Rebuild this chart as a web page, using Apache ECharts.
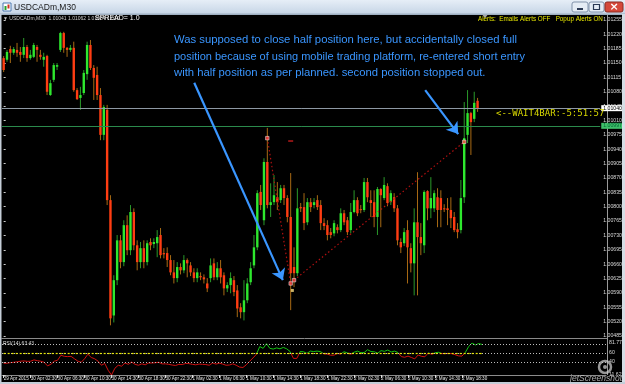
<!DOCTYPE html>
<html><head><meta charset="utf-8">
<script src="https://cdn.jsdelivr.net/npm/echarts@6/dist/echarts.min.js"></script>
<style>html,body{margin:0;padding:0;background:#000;}#c{width:625px;height:384px;}</style>
</head><body><div id="c"></div>
<script>
// ---- tick labels of the time axis (one every 8 bars of M30) ----
const tickLabels = ['29 Apr 2015','30 Apr 02:30','30 Apr 06:30','30 Apr 10:30','30 Apr 14:30','30 Apr 18:30','30 Apr 22:30',
  '1 May 02:30','1 May 06:30','1 May 10:30','1 May 14:30','1 May 18:30','1 May 22:30',
  '2 May 02:30','2 May 06:30','2 May 10:30','2 May 14:30','2 May 18:30'];

// ---- USDCADm M30 candles ----
const open = [
1.01162,1.01158,1.01184,1.01175,1.01182,1.01177,1.01170,1.01189,1.01162,1.01165,
1.01189,1.01170,1.01158,1.01167,1.01072,1.01109,1.01141,1.01182,1.01223,1.01187,
1.01182,1.01187,1.01084,1.01065,1.01077,1.01123,1.01194,1.01138,1.01121,1.01072,
1.00975,1.01036,1.00816,1.00535,1.00621,1.00718,1.00665,1.00755,1.00694,1.00787,
1.00706,1.00665,1.00699,1.00665,1.00714,1.00709,1.00711,1.00731,1.00687,1.00687,
1.00670,1.00640,1.00626,1.00653,1.00645,1.00670,1.00657,1.00640,1.00626,1.00631,
1.00628,1.00613,1.00626,1.00662,1.00628,1.00650,1.00633,1.00601,1.00609,1.00621,
1.00596,1.00555,1.00543,1.00572,1.00616,1.00657,1.00701,1.00836,1.00767,1.00909,
1.00804,1.00811,1.00823,1.00816,1.00845,1.00821,1.00775,1.00653,1.00638,1.00799,
1.00799,1.00762,1.00811,1.00804,1.00816,1.00804,1.00760,1.00755,1.00738,1.00735,
1.00750,1.00743,1.00784,1.00767,1.00743,1.00787,1.00816,1.00794,1.00792,1.00860,
1.00816,1.00811,1.00775,1.00843,1.00821,1.00850,1.00811,1.00823,1.00796,1.00714,
1.00711,1.00743,1.00699,1.00662,1.00762,1.00726,1.00706,1.00838,1.00796,1.00796,
1.00823,1.00821,1.00796,1.00796,1.00792,1.00775,1.00745,1.00743,1.00823,1.00975,
1.01028,1.01014,1.01058];
const high = [
1.01167,1.01182,1.01192,1.01189,1.01199,1.01189,1.01211,1.01194,1.01182,1.01199,
1.01194,1.01182,1.01175,1.01170,1.01109,1.01150,1.01150,1.01226,1.01226,1.01189,
1.01194,1.01202,1.01089,1.01092,1.01133,1.01202,1.01206,1.01145,1.01141,1.01089,
1.01048,1.01048,1.00828,1.00633,1.00731,1.00731,1.00767,1.00779,1.00804,1.00796,
1.00718,1.00714,1.00718,1.00718,1.00723,1.00723,1.00743,1.00748,1.00699,1.00701,
1.00682,1.00670,1.00665,1.00662,1.00682,1.00674,1.00665,1.00650,1.00650,1.00640,
1.00635,1.00626,1.00674,1.00674,1.00665,1.00670,1.00640,1.00616,1.00640,1.00631,
1.00609,1.00565,1.00621,1.00626,1.00665,1.00731,1.00840,1.00853,1.00918,1.00992,
1.00857,1.00877,1.00860,1.00853,1.00853,1.00828,1.00882,1.00701,1.00845,1.00809,
1.00833,1.00821,1.00821,1.00821,1.00828,1.00816,1.00772,1.00767,1.00748,1.00767,
1.00757,1.00796,1.00792,1.00775,1.00809,1.00840,1.00823,1.00804,1.00870,1.00870,
1.00840,1.00840,1.00848,1.00845,1.00872,1.00857,1.00840,1.00833,1.00804,1.00723,
1.00748,1.00767,1.00711,1.00796,1.00884,1.00760,1.00840,1.00840,1.00872,1.00840,
1.00845,1.00840,1.00806,1.00821,1.00823,1.00787,1.00760,1.00865,1.01055,1.01084,
1.01031,1.01080,1.01065];
const low = [
1.01128,1.01153,1.01150,1.01170,1.01165,1.01153,1.01162,1.01153,1.01158,1.01162,
1.01153,1.01158,1.01141,1.01072,1.01070,1.01104,1.01133,1.01177,1.01175,1.01165,
1.01177,1.01080,1.01060,1.01036,1.01072,1.01109,1.01133,1.01060,1.01060,1.00962,
1.00962,1.00804,1.00511,1.00518,1.00609,1.00650,1.00655,1.00682,1.00682,1.00694,
1.00645,1.00650,1.00650,1.00657,1.00694,1.00699,1.00677,1.00674,1.00674,1.00653,
1.00633,1.00613,1.00616,1.00635,1.00638,1.00628,1.00631,1.00616,1.00616,1.00621,
1.00613,1.00592,1.00616,1.00621,1.00621,1.00613,1.00584,1.00592,1.00589,1.00582,
1.00531,1.00528,1.00523,1.00565,1.00609,1.00650,1.00694,1.00792,1.00755,1.00796,
1.00775,1.00804,1.00792,1.00809,1.00804,1.00762,1.00548,1.00604,1.00631,1.00787,
1.00743,1.00755,1.00787,1.00796,1.00792,1.00743,1.00743,1.00718,1.00723,1.00728,
1.00735,1.00738,1.00755,1.00731,1.00735,1.00784,1.00777,1.00784,1.00787,1.00811,
1.00775,1.00750,1.00731,1.00750,1.00816,1.00801,1.00804,1.00787,1.00706,1.00687,
1.00704,1.00613,1.00640,1.00584,1.00584,1.00682,1.00687,1.00767,1.00772,1.00787,
1.00750,1.00750,1.00787,1.00755,1.00748,1.00738,1.00723,1.00735,1.00809,1.00955,
1.00926,1.01006,1.01031];
const close = [
1.01133,1.01177,1.01175,1.01184,1.01175,1.01170,1.01189,1.01162,1.01170,1.01194,
1.01182,1.01165,1.01165,1.01080,1.01101,1.01145,1.01145,1.01223,1.01187,1.01182,
1.01187,1.01084,1.01062,1.01072,1.01126,1.01194,1.01138,1.01114,1.01072,1.00975,
1.01043,1.00816,1.00528,1.00621,1.00718,1.00665,1.00755,1.00694,1.00787,1.00706,
1.00665,1.00699,1.00665,1.00711,1.00706,1.00714,1.00726,1.00682,1.00684,1.00670,
1.00640,1.00626,1.00653,1.00645,1.00670,1.00662,1.00640,1.00626,1.00640,1.00628,
1.00623,1.00601,1.00657,1.00628,1.00650,1.00628,1.00601,1.00609,1.00626,1.00592,
1.00552,1.00543,1.00572,1.00613,1.00650,1.00701,1.00833,1.00804,1.00909,1.00804,
1.00811,1.00828,1.00811,1.00845,1.00821,1.00775,1.00638,1.00638,1.00796,1.00796,
1.00760,1.00811,1.00799,1.00811,1.00799,1.00760,1.00753,1.00731,1.00731,1.00760,
1.00743,1.00784,1.00762,1.00738,1.00787,1.00816,1.00784,1.00792,1.00860,1.00823,
1.00809,1.00775,1.00843,1.00828,1.00853,1.00809,1.00833,1.00796,1.00718,1.00701,
1.00738,1.00701,1.00662,1.00762,1.00726,1.00711,1.00836,1.00796,1.00821,1.00833,
1.00792,1.00792,1.00794,1.00792,1.00772,1.00743,1.00738,1.00821,1.00967,1.01028,
1.01006,1.01053,1.01040];

// ---- RSI(14) ----
const rsi = [
37.1,37.5,38.7,39.5,40.5,41.8,42.5,41.5,41.8,44.8,
43,41.8,39.5,31.7,35,41.8,44,54.9,52.5,52,
52.5,47.2,42,39.5,47.2,57.2,50,47.2,42,33,
37,22,11.62,26.4,33,31,38,35,40,35,
33,36,34,37.9,38,38.5,39.5,36,36,35,
33.5,32.5,35,34.5,37,36.5,35,34,35.5,35,
34.5,33,38,35.5,37.5,35.5,33,33.5,36,33,
29,28,34,41.8,49,57,74,70,80.3,70,
68.5,71,69,72,69,63,48,48,63,62.5,
59,64,63,64,63,58,57.5,55,55,58.7,
57.5,62.6,60,57,61.5,64,60.5,61,67,63,
62.5,59.5,65,63.5,66.4,62,64,61,52,50.5,
53,50,47,55.5,52.5,51.5,60,57,60.2,61.5,
58.5,58.5,58.7,58.5,56,53.5,53,61,74,81.77,
77.5,80.5,78.5];
const rsiLevels = [80, 60, 40];
const rsiScale = [11.62, 81.77];

// ---- lines, trades and annotations (bar index / price) ----
const priceTicks = { min: 1.00485, max: 1.01267, step: 0.00035 };
const bidPrice = 1.01040;
const orderPrice = 1.00997;
const tradeBars   = [79, 86, 87, 138];
const tradePrices = [1.00967, 1.00613, 1.00621, 1.00958];
const slBar = 86, slPrice = 1.00960;
const exitBar = 86.5, exitPrice = 1.00596;
const arrowFrom = [[57.1, 1.01102], [126.3, 1.01084]];
const arrowTo   = [[83.65, 1.00621], [136.2, 1.00977]];
const noteLines = ['Was supposed to close half position here, but accidentally closed full',
  'position because of using mobile trading platform, re-entered short entry',
  'with half position as per planned. second position stopped out.'];

const chart = echarts.init(document.getElementById('c'), null, {renderer:'canvas', width:625, height:384});
const candleData = close.map((c, i) => [i, open[i], high[i], low[i], c]);
const rsiData = rsi.map((v, i) => [i, v]);
const timeTicks = tickLabels.map((_, k) => k * 8);
const X_MIN = -0.5, X_MAX = 178.76;
const BLUE = '#3a96ff';
const tradeLineStyle = { color: '#b01010', width: 1.2, type: [1.5, 2.5] };

function renderCandle(params, api) {
  const x = api.value(0), o = api.value(1), h = api.value(2), l = api.value(3), c = api.value(4);
  const pO = api.coord([x, o]), pC = api.coord([x, c]), pH = api.coord([x, h]), pL = api.coord([x, l]);
  const up = c > o;
  const bw = 2.4;
  const top = Math.min(pO[1], pC[1]);
  const bh = Math.max(1, Math.abs(pO[1] - pC[1]));
  return { type: 'group', children: [
    { type: 'line', shape: { x1: pH[0], y1: pH[1], x2: pL[0], y2: pL[1] },
      style: { stroke: up ? '#2a9a2a' : '#a86a14', lineWidth: 1 } },
    { type: 'rect', shape: { x: pO[0] - bw / 2, y: top, width: bw, height: bh },
      style: { fill: up ? '#2ee82e' : '#ff3d12' } }
  ]};
}

const option = {
  backgroundColor: '#000',
  animation: false,
  grid: [
    { left: 2, right: 18, top: 15, bottom: 48 },
    { left: 2, right: 18, top: 343, bottom: 9 }
  ],
  xAxis: [
    { type: 'value', gridIndex: 0, min: X_MIN, max: X_MAX, show: false },
    { type: 'value', gridIndex: 1, min: X_MIN, max: X_MAX,
      axisLine: { show: true, lineStyle: { color: '#8c8c8c', width: 1 } },
      axisTick: { show: true, customValues: timeTicks, length: 3, lineStyle: { color: '#dddddd' } },
      axisLabel: { customValues: timeTicks, formatter: v => tickLabels[Math.round(v / 8)] || '',
        color: '#e6e6e6', fontSize: 4.6, align: 'left', margin: 1.5, fontFamily: 'Liberation Sans',
        showMinLabel: true, hideOverlap: false },
      splitLine: { show: false } }
  ],
  yAxis: [
    { type: 'value', gridIndex: 0, position: 'right', min: priceTicks.min, max: priceTicks.max, interval: priceTicks.step,
      axisLine: { show: false }, axisTick: { show: true, length: 2, lineStyle: { color: '#cccccc' } },
      axisLabel: { color: '#d8d8d8', fontSize: 5.2, margin: 3, showMaxLabel: false, fontFamily: 'Liberation Sans',
        formatter: v => v.toFixed(5) },
      splitLine: { show: false } },
    { type: 'value', gridIndex: 1, position: 'right', min: rsiScale[0], max: rsiScale[1],
      axisLine: { show: false },
      axisTick: { show: true, length: 2, customValues: [rsiScale[0], 40, 60, rsiScale[1]], lineStyle: { color: '#cccccc' } },
      axisLabel: { customValues: [rsiScale[0], 40, 60, rsiScale[1]], color: '#d8d8d8', fontSize: 5.2, margin: 3,
        fontFamily: 'Liberation Sans', formatter: v => (v === rsiScale[0] || v === rsiScale[1]) ? v.toFixed(2) : String(v) },
      splitLine: { show: false } }
  ],
  visualMap: { show: false, type: 'piecewise', seriesIndex: 3, dimension: 1,
    pieces: [{ gte: 0, lt: 60, color: '#d01010' }, { gte: 60, lte: 100, color: '#12c412' }] },
  series: [
    { type: 'custom', name: 'candles', xAxisIndex: 0, yAxisIndex: 0, data: candleData, renderItem: renderCandle,
      encode: { x: 0, y: [1, 2, 3, 4] }, silent: true, z: 3 },
    { type: 'scatter', name: 'trades', xAxisIndex: 0, yAxisIndex: 0, z: 6, silent: true,
      data: tradeBars.map((b, k) => [b, tradePrices[k]]),
      symbol: 'rect', symbolSize: 3.5, itemStyle: { color: '#ff4040', borderColor: '#ffffff', borderWidth: 0.6 },
      markLine: { silent: true, symbol: 'none', animation: false, precision: 5,
        label: { show: true, position: 'end', fontSize: 5.2, fontFamily: 'Liberation Sans', padding: [1, 2, 0, 2], distance: 1 },
        data: [
          [{ coord: [tradeBars[0], tradePrices[0]], label: { show: false }, lineStyle: tradeLineStyle }, { coord: [tradeBars[1], tradePrices[1]] }],
          [{ coord: [tradeBars[2], tradePrices[2]], label: { show: false }, lineStyle: tradeLineStyle }, { coord: [tradeBars[3], tradePrices[3]] }],
          { yAxis: bidPrice, lineStyle: { color: '#8d98a3', width: 1, type: 'solid' },
            label: { show: true, formatter: bidPrice.toFixed(5), color: '#000', backgroundColor: '#ffffff' } },
          { yAxis: orderPrice, lineStyle: { color: '#2b8a4c', width: 1, type: 'solid' },
            label: { show: true, formatter: orderPrice.toFixed(5), color: '#063', backgroundColor: '#3fbf6a' } }
        ] } },
    { type: 'scatter', name: 'marks', xAxisIndex: 0, yAxisIndex: 0, z: 6, silent: true,
      data: [
        { value: [slBar, slPrice], symbol: 'rect', symbolSize: [5, 1.5], itemStyle: { color: '#e02020' } },
        { value: [exitBar, exitPrice], symbol: 'rect', symbolSize: 3, itemStyle: { color: '#ffe080' } }
      ],
      markLine: { silent: true, animation: false, precision: 5, symbol: ['none', 'arrow'], symbolSize: 11, label: { show: false },
        lineStyle: { color: BLUE, width: 2.2, type: 'solid' },
        data: arrowFrom.map((f, k) => [{ coord: f }, { coord: arrowTo[k] }]) } },
    { type: 'line', name: 'RSI(14)', xAxisIndex: 1, yAxisIndex: 1, data: rsiData, showSymbol: false, symbol: 'none',
      lineStyle: { width: 1 }, z: 4, silent: true },
    { type: 'scatter', name: 'levels', xAxisIndex: 1, yAxisIndex: 1, data: [[0, rsiLevels[1]]], symbolSize: 0, silent: true, z: 2,
      markLine: { silent: true, symbol: 'none', animation: false, precision: 2, label: { show: false },
        data: rsiLevels.map(v => ({ yAxis: v, lineStyle: { color: '#bdbdbd', width: 1, type: [1, 2] } }))
          .concat([[{ coord: [0, rsiLevels[1]], lineStyle: { color: '#e8e800', width: 1.2, type: [2, 2] } },
                    { coord: [close.length - 1, rsiLevels[1]] }]]) } }
  ],
  graphic: [
    // window title bar
    { type: 'rect', shape: { x: 0, y: 0, width: 625, height: 14 }, z: 10,
      style: { fill: new echarts.graphic.LinearGradient(0, 0, 0, 1, [{ offset: 0, color: '#e6eef7' }, { offset: 1, color: '#c6d5e6' }]) } },
    { type: 'rect', shape: { x: 0, y: 13.5, width: 625, height: 1.5 }, z: 10, style: { fill: '#9fb0c2' } },
    { type: 'rect', shape: { x: 3, y: 3, width: 8, height: 8 }, z: 11, style: { fill: '#ffffff', stroke: '#4a78b0', lineWidth: 1 } },
    { type: 'rect', shape: { x: 4.5, y: 6, width: 2, height: 4 }, z: 12, style: { fill: '#2aa02a' } },
    { type: 'rect', shape: { x: 7.5, y: 4.5, width: 2, height: 4 }, z: 12, style: { fill: '#d03020' } },
    { type: 'text', x: 14, y: 7.5, z: 11, style: { text: 'USDCADm,M30', fill: '#1a1a1a', fontSize: 8.5, fontFamily: 'Liberation Sans', verticalAlign: 'middle' } },
    { type: 'rect', shape: { x: 572, y: 2, width: 16, height: 10, r: 2 }, z: 11, style: { fill: '#e4ecf5', stroke: '#8193ab', lineWidth: 1 } },
    { type: 'rect', shape: { x: 577, y: 8, width: 6, height: 2 }, z: 12, style: { fill: '#2b3a55' } },
    { type: 'rect', shape: { x: 589, y: 2, width: 15, height: 10, r: 2 }, z: 11, style: { fill: '#e4ecf5', stroke: '#8193ab', lineWidth: 1 } },
    { type: 'rect', shape: { x: 593.5, y: 4.5, width: 6, height: 5 }, z: 12, style: { fill: 'none', stroke: '#2b3a55', lineWidth: 1.2 } },
    { type: 'rect', shape: { x: 605, y: 2, width: 18, height: 10, r: 2 }, z: 11, style: { fill: '#d5483a', stroke: '#8c2b22', lineWidth: 1 } },
    { type: 'text', x: 614, y: 7.3, z: 12, style: { text: '×', fill: '#ffffff', fontSize: 11, fontWeight: 'bold', fontFamily: 'DejaVu Sans', align: 'center', verticalAlign: 'middle' } },
    // frame
    { type: 'rect', shape: { x: 0, y: 14, width: 1.5, height: 370 }, z: 10, style: { fill: '#c5ced8' } },
    { type: 'rect', shape: { x: 622, y: 14, width: 3, height: 370 }, z: 10, style: { fill: '#d6dde5' } },
    { type: 'rect', shape: { x: 0, y: 382, width: 625, height: 2 }, z: 10, style: { fill: '#c5ced8' } },
    { type: 'line', shape: { x1: 607.5, y1: 15, x2: 607.5, y2: 375 }, z: 5, style: { stroke: '#9a9a9a', lineWidth: 1 } },
    { type: 'line', shape: { x1: 1.5, y1: 338.5, x2: 607.5, y2: 338.5 }, z: 5, style: { stroke: '#8a8a8a', lineWidth: 1 } },
    // header texts
    { type: 'text', x: 3, y: 18.5, z: 7, style: { text: '▼ USDCADm,M30  1.01041 1.01062 1.01034 1.010', fill: '#cfcfcf', fontSize: 5, fontFamily: 'Liberation Sans', verticalAlign: 'middle' } },
    { type: 'text', x: 95, y: 18.5, z: 7, style: { text: 'SPREAD= 1.0', fill: '#ffffff', fontSize: 7, fontFamily: 'Liberation Sans', verticalAlign: 'middle' } },
    { type: 'text', x: 478, y: 19, z: 7, style: { text: 'Alerts:  Emails Alerts OFF   Popup Alerts ON', fill: '#e6e600', fontSize: 6.3, fontFamily: 'Liberation Sans', verticalAlign: 'middle' } },
    { type: 'polygon', z: 7, shape: { points: [[482.5, 15], [487.5, 15], [485, 18]] }, style: { fill: '#a8a8a8' } },
    { type: 'text', x: 496, y: 113.5, z: 7, style: { text: '<--WAIT4BAR:-5:51:57', fill: '#d8d800', fontSize: 9, fontFamily: 'DejaVu Sans Mono', verticalAlign: 'middle' } },
    // annotation
    { type: 'text', x: 174, y: 40, z: 7, style: { text: noteLines[0], fill: BLUE, fontSize: 11.3, fontFamily: 'Liberation Sans', verticalAlign: 'middle' } },
    { type: 'text', x: 174, y: 57, z: 7, style: { text: noteLines[1], fill: BLUE, fontSize: 11, fontFamily: 'Liberation Sans', verticalAlign: 'middle' } },
    { type: 'text', x: 174, y: 73, z: 7, style: { text: noteLines[2], fill: BLUE, fontSize: 11.3, fontFamily: 'Liberation Sans', verticalAlign: 'middle' } },
    // RSI label
    { type: 'text', x: 3, y: 343.5, z: 7, style: { text: 'RSI(14) 63.43', fill: '#d8d8d8', fontSize: 5, fontFamily: 'Liberation Sans', verticalAlign: 'middle' } },
    // watermark
    { type: 'circle', z: 8, shape: { cx: 605, cy: 367, r: 6 }, style: { fill: 'none', stroke: 'rgba(200,200,200,0.75)', lineWidth: 2.5 } },
    { type: 'circle', z: 8, shape: { cx: 605, cy: 367, r: 2 }, style: { fill: 'rgba(200,200,200,0.75)' } },
    { type: 'text', x: 622, y: 378.5, z: 8, style: { text: 'jetScreenshot', fill: 'rgba(210,210,210,0.8)', fontSize: 8.5, fontStyle: 'italic', fontFamily: 'Liberation Sans', align: 'right', verticalAlign: 'middle' } }
  ]
};
chart.setOption(option);
</script>
</body></html>
